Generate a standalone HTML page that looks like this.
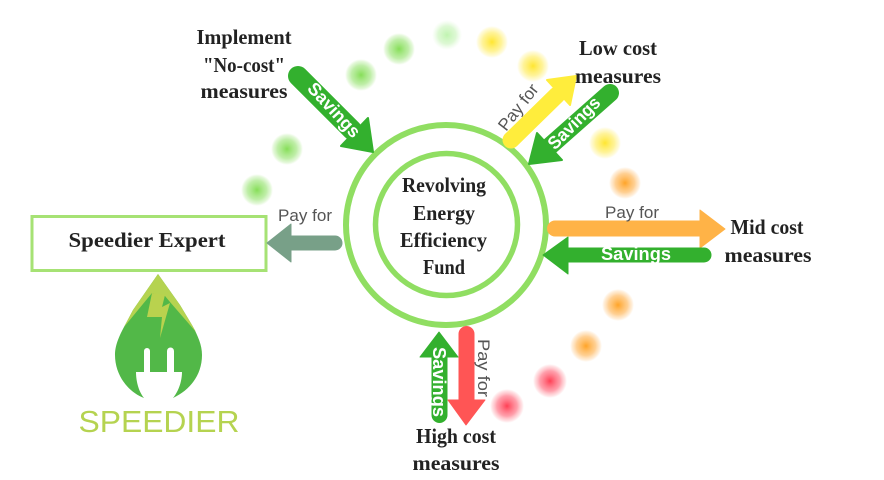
<!DOCTYPE html>
<html>
<head>
<meta charset="utf-8">
<style>
html,body{margin:0;padding:0;background:#fff;width:884px;height:480px;overflow:hidden}
svg{display:block}
.l{font-family:"Liberation Serif",serif;font-weight:bold;fill:#222;font-size:21px;text-anchor:middle}
.s{font-family:"Liberation Sans",sans-serif;font-weight:bold;fill:#fff;font-size:18px;text-anchor:middle}
.p{font-family:"Liberation Sans",sans-serif;fill:#555;font-size:17px;text-anchor:middle}
</style>
</head>
<body>
<svg width="884" height="480" viewBox="0 0 884 480" xmlns="http://www.w3.org/2000/svg">
<defs>
<radialGradient id="g"><stop offset="0" stop-color="#86de58"/><stop offset=".6" stop-color="#a9e88a" stop-opacity=".75"/><stop offset=".85" stop-color="#c0eea8" stop-opacity=".45"/><stop offset="1" stop-color="#c8f0b0" stop-opacity="0"/></radialGradient>
<radialGradient id="pg"><stop offset="0" stop-color="#c0f4b0"/><stop offset=".6" stop-color="#d2f6c6" stop-opacity=".75"/><stop offset="1" stop-color="#e0f8d8" stop-opacity="0"/></radialGradient>
<radialGradient id="y"><stop offset="0" stop-color="#ffe630"/><stop offset=".6" stop-color="#fff080" stop-opacity=".8"/><stop offset=".85" stop-color="#fff4a0" stop-opacity=".45"/><stop offset="1" stop-color="#fff4a0" stop-opacity="0"/></radialGradient>
<radialGradient id="o"><stop offset="0" stop-color="#ffa428"/><stop offset=".6" stop-color="#ffc478" stop-opacity=".8"/><stop offset=".85" stop-color="#ffd8a8" stop-opacity=".5"/><stop offset="1" stop-color="#ffd8a8" stop-opacity="0"/></radialGradient>
<radialGradient id="r"><stop offset="0" stop-color="#ff4055"/><stop offset=".6" stop-color="#ff8090" stop-opacity=".75"/><stop offset=".85" stop-color="#ffb0b8" stop-opacity=".45"/><stop offset="1" stop-color="#ffb0b8" stop-opacity="0"/></radialGradient>
</defs>

<!-- dots -->
<circle cx="399" cy="49" r="16" fill="url(#g)"/>
<circle cx="361" cy="75" r="16" fill="url(#g)"/>
<circle cx="287" cy="149" r="16" fill="url(#g)"/>
<circle cx="257" cy="190" r="16" fill="url(#g)"/>
<circle cx="447" cy="35" r="15" fill="url(#pg)"/>
<circle cx="492" cy="42" r="16" fill="url(#y)"/>
<circle cx="533" cy="66" r="16" fill="url(#y)"/>
<circle cx="605" cy="143" r="16" fill="url(#y)"/>
<circle cx="625" cy="183" r="16" fill="url(#o)"/>
<circle cx="618" cy="305" r="16" fill="url(#o)"/>
<circle cx="586" cy="346" r="16" fill="url(#o)"/>
<circle cx="550" cy="381" r="17" fill="url(#r)"/>
<circle cx="507" cy="406" r="17" fill="url(#r)"/>

<!-- rings -->
<circle cx="446" cy="225" r="100" fill="#fff" stroke="#90de62" stroke-width="6"/>
<circle cx="446.500" cy="224.500" r="71" fill="none" stroke="#90de62" stroke-width="5.500"/>

<!-- box -->
<rect x="32" y="216.500" width="234" height="54" fill="#fff" stroke="#a6e274" stroke-width="3"/>
<text class="l" x="147" y="247" textLength="157" lengthAdjust="spacingAndGlyphs">Speedier Expert</text>

<!-- logo -->
<path d="M158 274L133 310L124 327C117 340 115 348 115 355C115 375 128 392 144 398L173 398C190 390 202 375 202 355C202 345 198 336 192 325L180 305Z" fill="#52b848"/>
<path d="M158 274L133 310L124 327L152 293L165 296L170 302L196 332L192 325L180 305Z" fill="#b5d350"/>
<path d="M152 293L165 295L162 307L170 303L160 338L162 317L147 317Z" fill="#b9d24e"/>
<path d="M144 351a3 3 0 0 1 6 0V372H167V351a3.500 3.500 0 0 1 7 0V372H182C182 382 178 392 173 398H144C139 392 136 382 136 372H144Z" fill="#fff"/>
<text x="159" y="432" text-anchor="middle" font-family="Liberation Sans, sans-serif" font-size="31" fill="#b5d350" textLength="161" lengthAdjust="spacingAndGlyphs">SPEEDIER</text>

<!-- left arrow -->
<path d="M342 243a7 7 0 0 0-7-7H291V224L267 243L291 262V250H335a7 7 0 0 0 7-7Z" fill="#78a088" stroke="#78a088" stroke-linejoin="round"/>
<text class="p" x="305" y="221" textLength="54" lengthAdjust="spacingAndGlyphs">Pay for</text>

<!-- no-cost savings arrow -->
<line x1="298" y1="76" x2="352" y2="130" stroke="#33b02e" stroke-width="20" stroke-linecap="round"/>
<path d="M368 118L373 152L341 146Z" fill="#33b02e" stroke="#33b02e" stroke-width="2" stroke-linejoin="round"/>
<text class="s" transform="translate(334,110) rotate(47)" y="6" textLength="68" lengthAdjust="spacingAndGlyphs">Savings</text>

<!-- low cost pay arrow -->
<line x1="511" y1="140" x2="557" y2="95" stroke="#ffed3c" stroke-width="17" stroke-linecap="round"/>
<path d="M547 80L576 76L570 105Z" fill="#ffed3c" stroke="#ffed3c" stroke-width="2" stroke-linejoin="round"/>
<text class="p" transform="translate(518,107) rotate(-52)" y="6" font-size="18" textLength="54" lengthAdjust="spacingAndGlyphs">Pay for</text>

<!-- low cost savings arrow -->
<line x1="610" y1="93" x2="550" y2="146" stroke="#33b02e" stroke-width="18" stroke-linecap="round"/>
<path d="M537 133L529 164L562 160Z" fill="#33b02e" stroke="#33b02e" stroke-width="2" stroke-linejoin="round"/>
<text class="s" transform="translate(574,123) rotate(-45)" y="6" textLength="66" lengthAdjust="spacingAndGlyphs">Savings</text>

<!-- mid arrows -->
<path d="M555 221H700V210L725 229L700 248V236H555a7.500 7.500 0 0 1 0-15Z" fill="#ffb347" stroke="#ffb347" stroke-linejoin="round"/>
<text class="p" x="632" y="218" textLength="54" lengthAdjust="spacingAndGlyphs">Pay for</text>
<path d="M543 255L568 237V248H704a7 7 0 0 1 0 14H568V274Z" fill="#33b02e" stroke="#33b02e" stroke-linejoin="round"/>
<text class="s" x="636" y="260" textLength="70" lengthAdjust="spacingAndGlyphs">Savings</text>

<!-- high arrows -->
<path d="M459 334a7.500 7.500 0 0 1 15 0V400H485L466 425L448 400H459Z" fill="#ff5555" stroke="#ff5555" stroke-linejoin="round"/>
<path d="M439 332L458 357H447V415a7.500 7.500 0 0 1-15 0V357H420Z" fill="#33b02e" stroke="#33b02e" stroke-linejoin="round"/>
<text class="s" transform="translate(439,382) rotate(90)" y="6" textLength="70" lengthAdjust="spacingAndGlyphs">Savings</text>
<text class="p" transform="translate(483,368) rotate(90)" y="5" textLength="58" lengthAdjust="spacingAndGlyphs">Pay for</text>

<!-- labels -->
<text class="l" x="244" y="44" textLength="95" lengthAdjust="spacingAndGlyphs">Implement</text>
<text class="l" x="244" y="72" textLength="82" lengthAdjust="spacingAndGlyphs">"No-cost"</text>
<text class="l" x="244" y="98" textLength="87" lengthAdjust="spacingAndGlyphs">measures</text>
<text class="l" x="618" y="55" textLength="78" lengthAdjust="spacingAndGlyphs">Low cost</text>
<text class="l" x="618" y="83" textLength="86" lengthAdjust="spacingAndGlyphs">measures</text>
<text class="l" x="767" y="234" textLength="73" lengthAdjust="spacingAndGlyphs">Mid cost</text>
<text class="l" x="768" y="262" textLength="87" lengthAdjust="spacingAndGlyphs">measures</text>
<text class="l" x="456" y="443" textLength="80" lengthAdjust="spacingAndGlyphs">High cost</text>
<text class="l" x="456" y="470" textLength="87" lengthAdjust="spacingAndGlyphs">measures</text>
<text class="l" x="444" y="192" textLength="84" lengthAdjust="spacingAndGlyphs">Revolving</text>
<text class="l" x="444" y="220" textLength="62" lengthAdjust="spacingAndGlyphs">Energy</text>
<text class="l" x="443.500" y="247" textLength="87" lengthAdjust="spacingAndGlyphs">Efficiency</text>
<text class="l" x="444" y="274" textLength="42" lengthAdjust="spacingAndGlyphs">Fund</text>
</svg>
</body>
</html>
